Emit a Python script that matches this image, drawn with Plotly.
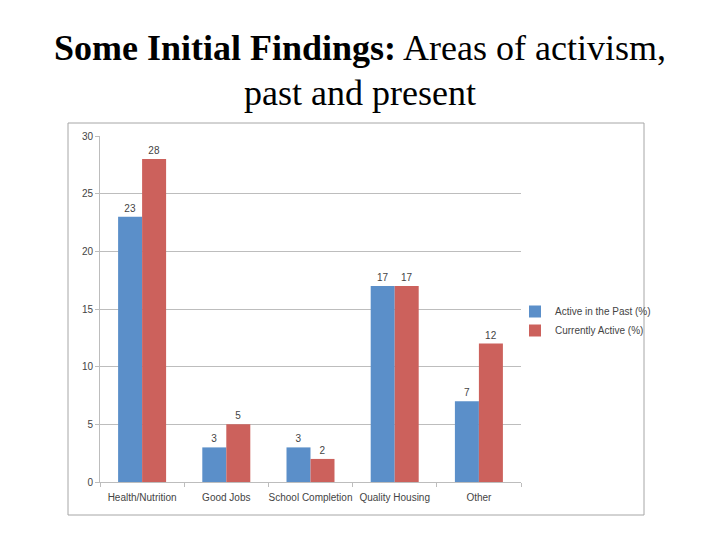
import plotly.graph_objects as go

categories = ["Health/Nutrition", "Good Jobs", "School Completion", "Quality Housing", "Other"]
past_values = [23, 3, 3, 17, 7]
current_values = [28, 5, 2, 17, 12]
series_names = ["Active in the Past (%)", "Currently Active (%)"]
y_ticks = [0, 5, 10, 15, 20, 25, 30]

BLUE = "#5B8FC9"
RED = "#CC615C"
GRID = "#BDBDBD"
TXT = "#444444"
FS = 10

OFF = 8  # page body offset
W, H = 720 - OFF, 540 - OFF
L, R, T, B = 100 - OFF, 521 - OFF, 136 - OFF, 482 - OFF
pw, ph = R - L, B - T

def px_x(x):
    return (x - OFF - L) / pw

def px_y(y):
    return (B - (y - OFF)) / ph

fig = go.Figure()
fig.add_trace(go.Bar(x=categories, y=past_values, name=series_names[0],
                     marker=dict(color=BLUE, line=dict(width=0)),
                     text=past_values, textposition="outside",
                     textfont=dict(size=FS, color=TXT, family="Liberation Sans"),
                     cliponaxis=False))
fig.add_trace(go.Bar(x=categories, y=current_values, name=series_names[1],
                     marker=dict(color=RED, line=dict(width=0)),
                     text=current_values, textposition="outside",
                     textfont=dict(size=FS, color=TXT, family="Liberation Sans"),
                     cliponaxis=False))

fig.update_layout(
    width=W, height=H,
    margin=dict(l=L, r=W - R, t=T, b=H - B, pad=0, autoexpand=False),
    paper_bgcolor="white", plot_bgcolor="white",
    barmode="group", bargap=0.43, bargroupgap=0,
    showlegend=True,
    legend=dict(x=px_x(515), y=px_y(297), xanchor="left", yanchor="top",
                font=dict(size=FS, color=TXT, family="Liberation Sans"),
                tracegroupgap=0, itemwidth=30, bgcolor="rgba(0,0,0,0)"),
    font=dict(family="Liberation Sans", size=FS, color=TXT),
)
fig.update_yaxes(range=[0, 30], tickvals=y_ticks, showgrid=True, gridcolor=GRID, gridwidth=1,
                 showline=True, linecolor=GRID, linewidth=1, ticks="outside", ticklen=4,
                 tickcolor=GRID, tickfont=dict(size=FS, color=TXT), zeroline=False,
                 fixedrange=True, automargin=False)
fig.update_xaxes(showline=True, linecolor=GRID, linewidth=1, ticks="outside", ticklen=4,
                 tickcolor=GRID, tickson="boundaries", tickfont=dict(size=FS, color=TXT),
                 ticklabelstandoff=6,
                 tickangle=0, showgrid=False, fixedrange=True, automargin=False)

# outer chart border
fig.add_shape(type="rect", xref="paper", yref="paper",
              x0=px_x(68), x1=px_x(644), y0=px_y(515), y1=px_y(123),
              line=dict(color="#A6A6A6", width=1), fillcolor="rgba(0,0,0,0)", layer="below")

# title
fig.add_annotation(xref="paper", yref="paper", x=px_x(360), y=px_y(48),
                   xanchor="center", yanchor="middle", showarrow=False,
                   text="<b>Some Initial Findings:</b> Areas of activism,",
                   font=dict(family="Liberation Serif", size=36, color="black"))
fig.add_annotation(xref="paper", yref="paper", x=px_x(360), y=px_y(93),
                   xanchor="center", yanchor="middle", showarrow=False,
                   text="past and present",
                   font=dict(family="Liberation Serif", size=36, color="black"))

fig.write_html("out.html")
